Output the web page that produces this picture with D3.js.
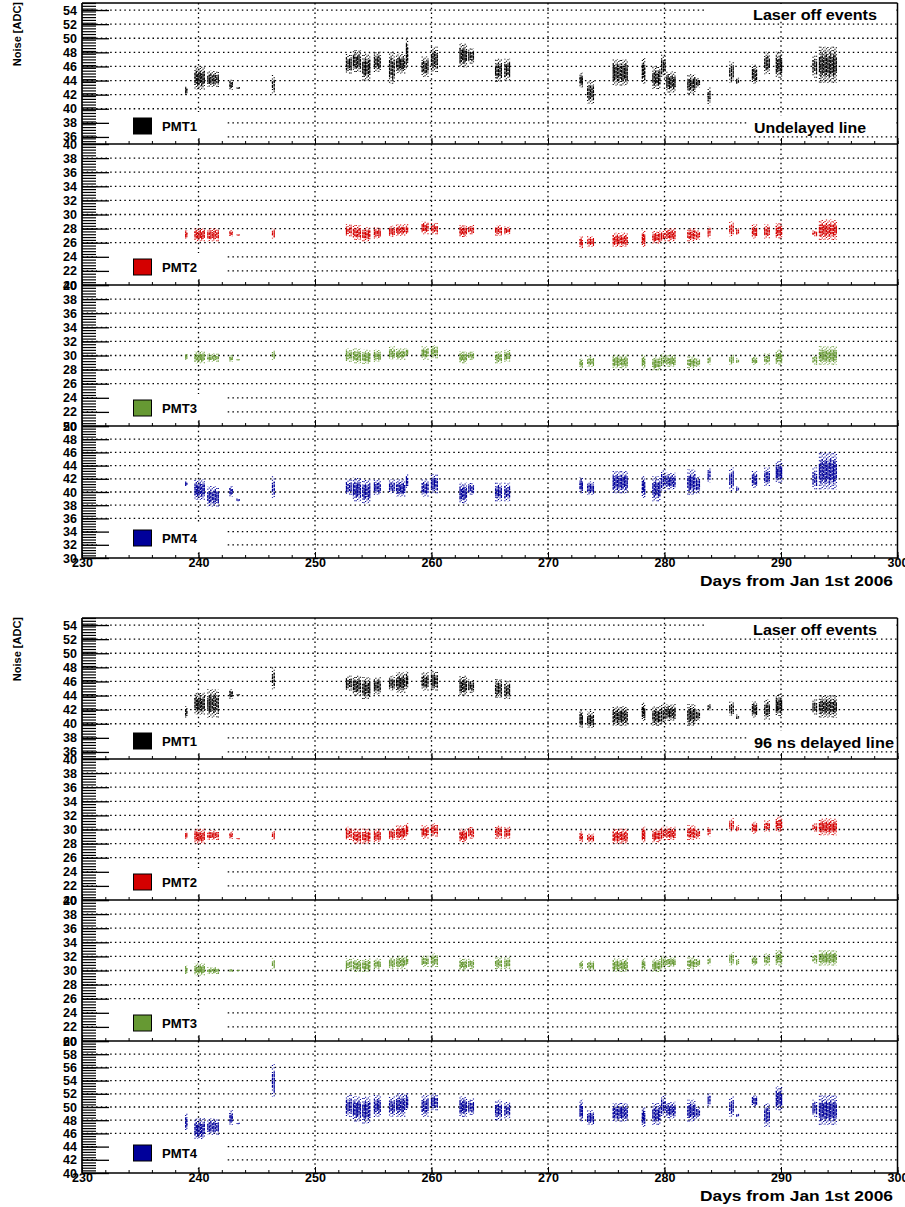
<!DOCTYPE html>
<html><head><meta charset="utf-8">
<script src="https://cdn.jsdelivr.net/npm/d3@7"></script>
<style>
body{margin:0;background:#fff}
svg{display:block}
text{font-family:"Liberation Sans",Arial,Helvetica,sans-serif;font-weight:bold;fill:#000}
</style>
</head><body>
<svg id="c" width="905" height="1207"></svg>
<script>
// ---- data ----
const xTicksMajor = [230,240,250,260,270,280,290,300];
const pmtLabels = ["PMT1","PMT2","PMT3","PMT4"];
const groupTopText = ["Laser off events","Laser off events"];
const groupLineText = ["Undelayed line","96 ns delayed line"];
const xTitle = "Days from Jan 1st 2006";
const yTitle = "Noise [ADC]";
// acquisition runs (day start / day end)
const runStart = [238.9,239.7,240.8,242.7,243.3,246.35,252.7,253.3,254.1,255.1,256.4,257.0,257.85,259.2,260.0,262.45,263.2,265.5,266.3,272.75,273.4,275.6,278.1,279.0,279.75,280.2,282.0,282.75,283.75,285.6,286.2,287.55,288.6,289.6,292.75,293.3];
const runEnd   = [239.0,240.5,241.7,242.9,243.5,246.5,253.1,253.9,254.7,255.6,256.8,257.7,257.95,259.7,260.5,263.0,263.6,266.0,266.7,272.95,273.9,276.8,278.3,279.6,280.05,280.9,282.6,283.0,283.9,285.9,286.35,287.9,289.0,290.05,293.05,294.75];
// Undelayed line
const und1Lo = [42,42.7,43.1,42.7,42.8,42.2,45,45.2,44,45.2,43.5,45,45.7,44.5,45.2,45.9,46.4,43.8,44,43,40.7,43.3,43.5,42.8,44.4,42.3,42.1,43,40.5,43.7,43.5,43.5,44.9,44.4,44.4,43.7];
const und1Hi = [43.2,46,45.4,44.1,43.1,44.8,47.8,48.3,47.8,48.1,48.1,47.8,50,47.4,48.8,49.3,48.6,47.1,47.1,45.1,44,47,47.2,46,47.7,45.3,44.9,44.4,43,46.7,44.4,46.3,48.1,48.1,47.7,48.8];
const und2Lo = [26.6,26.2,26.2,26.9,27.0,26.6,26.9,26.4,26.2,26.6,26.8,27,27.2,27.2,27.2,26.8,27.2,27,27.2,25.2,25.4,25.4,25.4,25.9,26.2,26.2,26.2,26.4,26.6,26.9,27.1,26.6,26.6,26.6,26.9,26.4];
const und2Hi = [27.8,28.1,28.1,27.8,27.2,28.1,28.6,28.5,28.2,28.2,28.4,28.6,28.6,29,28.8,28.5,28.5,28.5,28.3,26.9,26.9,27.4,27.7,27.7,27.8,28.1,28.1,27.8,28.3,29,28.1,28.6,28.6,28.8,27.8,29.3];
const und3Lo = [29.4,28.9,29.1,29.1,29.3,29.4,29.1,28.9,28.8,29.1,29.4,29.4,29.9,29.4,29.6,28.9,29.4,28.9,29.1,28.2,28.4,28.2,28.2,27.9,28.4,28.4,28.2,28.4,28.7,28.7,28.9,28.7,28.7,28.7,28.7,28.7];
const und3Hi = [30.3,30.6,30.3,30.1,29.5,30.8,31,31,30.8,30.8,31.3,31,31,31.3,31.5,30.6,30.6,30.6,30.8,29.6,29.9,30.1,30.1,29.9,30.3,30.1,29.9,29.6,29.9,30.1,29.6,29.9,30.3,30.8,30.1,31.3];
const und4Lo = [40.9,38.8,37.8,39.3,38.6,39.1,39.6,38.6,38.3,39.6,39.8,39.3,40.6,39.3,39.8,38.3,39.6,38.6,38.6,39.8,39.6,39.8,39.1,38.6,40.1,40.4,39.6,39.8,41.4,40.1,40.1,40.6,40.9,41.4,40.4,40.4];
const und4Hi = [41.6,41.9,40.9,40.9,39,42.4,41.9,42.2,41.9,41.9,41.9,41.9,42.7,41.9,42.7,41.4,41.4,41.4,41.4,42.2,41.6,43.2,42.4,42.4,43.4,42.9,43.4,42.4,43.7,43.7,40.9,43.2,43.7,44.7,43.7,46];
// 96 ns delayed line
const del1Lo = [40.9,41.3,40.9,43.5,44,44.9,44.7,44,43.5,44.2,44.7,44.4,44.9,44.7,44.7,44,44.4,43.7,43.5,39.4,39.4,39.7,40.4,39.7,39.9,40.4,39.7,40.4,41.8,41.1,40.6,40.9,40.6,41.1,41.3,40.9];
const del1Hi = [42.5,44.4,44.9,44.9,44.2,48,46.8,46.8,46.6,46.6,46.8,47.3,47.5,47.3,47.5,46.8,46.3,46.3,46.1,42,41.8,42.5,43,42.5,42.8,42.8,42.8,42,42.8,43.2,41.3,43.2,43.5,44.2,43.5,44];
const del2Lo = [28.7,28,28.5,28.7,28.6,28.5,28.5,28,28,28.2,28.5,28.5,29,28.7,29,28.2,28.7,28.7,28.7,28.2,28.2,28,28.2,28.2,28.5,28.5,28.5,28.7,29,29.7,29.7,29.4,29.7,29.7,29.7,29.2];
const del2Hi = [29.7,30.1,29.9,29.7,28.8,29.9,30.4,30.1,30.1,30.1,30.1,30.6,30.9,30.6,30.9,30.1,30.4,30.6,30.4,29.7,29.4,30.1,30.4,30.1,30.4,30.4,30.6,30.1,30.4,31.6,30.6,31.1,31.3,31.8,30.9,31.6];
const del3Lo = [29.5,29.3,29.5,29.8,29.9,30.2,30,29.8,29.8,30.2,30.2,30.2,30.7,30.5,30.5,30,30.2,30.2,30.2,30.2,30,29.8,30,29.8,30.2,30.5,30.2,30.5,30.7,30.7,30.7,30.7,30.7,30.7,31,30.7];
const del3Hi = [30.7,31,30.5,30.2,30.1,31.7,31.7,31.7,31.7,31.7,31.9,32.1,32.1,32.1,32.4,31.7,31.7,31.9,31.9,31.4,31.4,31.7,31.7,31.7,32.1,31.9,31.9,31.7,31.9,32.6,31.7,32.1,32.4,32.9,32.4,32.9];
const del4Lo = [46.5,45,45.8,47.3,47.4,51.5,48.5,47.8,47.5,48.5,48.5,48.5,49.5,48.5,49.5,48.5,48.8,48,48.3,47.8,47.3,47.8,47,47.3,48.5,48.3,47.8,48.3,50,48.5,48.5,50,47,49.5,48.5,47.3];
const del4Hi = [49,48.3,48.3,49.5,47.6,56.5,51.8,51.6,51.6,51.8,51.6,52.1,52.2,51.8,52.1,51.6,51.3,51.1,50.8,51.1,49.5,50.6,50,50.6,51.8,50.8,51.1,50,52.1,51.6,49,51.8,50.6,53.1,51.1,51.8];
// y ranges of the panels
const undDomains = [[35,55],[20,40],[20,40],[30,50]];
const delDomains = [[35,55],[20,40],[20,40],[40,60]];
const pmtColors = ["#000000","#d40000","#669933","#00009a"];

const svg = d3.select("#c");
const X0 = 82, X1 = 897.5;
const x = d3.scaleLinear().domain([230,300]).range([X0,X1]);
const relTop = [0,141,282,423], relBot = [141,282,423,555];
const groups = [
  {top:3, lo:[und1Lo,und2Lo,und3Lo,und4Lo], hi:[und1Hi,und2Hi,und3Hi,und4Hi], dom:undDomains, txt:groupLineText[0], txtLen:112, top_txt:groupTopText[0]},
  {top:618, lo:[del1Lo,del2Lo,del3Lo,del4Lo], hi:[del1Hi,del2Hi,del3Hi,del4Hi], dom:delDomains, txt:groupLineText[1], txtLen:140, top_txt:groupTopText[1]}
];
const FONT = "Liberation Sans, Arial, sans-serif";
// texture offsets for the dense point columns (purely visual)
const offA = [0,2.2,0.7,3.1,1.5,0.3,2.6,1.1,3.4];
const offB = [0,1.9,0.6,2.7,1.2,3.3,0.4,2.3];
function dotted(sel){ return sel.attr("stroke","#000").attr("stroke-width",1.3).attr("stroke-dasharray","1.5,3.2"); }

groups.forEach((G,gi)=>{
  const gg = svg.append("g");
  G.dom.forEach((dom,pi)=>{
    const yt = G.top + relTop[pi], yb = G.top + relBot[pi];
    const y = d3.scaleLinear().domain(dom).range([yb,yt]);
    const pg = gg.append("g");
    const majors = d3.range(dom[0], dom[1]+0.001, 1).filter(v=>v%2===0);
    majors.filter(v=>v>dom[0]&&v<dom[1]).forEach(v=>{
      dotted(pg.append("line").attr("x1",X0).attr("x2",X1).attr("y1",y(v)).attr("y2",y(v)));
    });
    xTicksMajor.filter(v=>v>230&&v<300).forEach(v=>{
      dotted(pg.append("line").attr("x1",x(v)).attr("x2",x(v)).attr("y1",yt).attr("y2",yb));
    });
    const lo = G.lo[pi], hi = G.hi[pi], col = pmtColors[pi];
    const dg = pg.append("g").attr("stroke",col).attr("stroke-width",1.2);
    runStart.forEach((s,i)=>{
      const px0 = x(s), px1 = x(runEnd[i]);
      const n = Math.max(2, Math.round((px1-px0)/1.4)+1);
      const l = lo[i], h = hi[i], span = h-l;
      for(let k=0;k<n;k++){
        const xx = px0 + k*(px1-px0)/(n-1);
        dg.append("line").attr("x1",xx).attr("x2",xx)
          .attr("y1",y(l)).attr("y2",y(h))
          .attr("stroke-dasharray","1,2.5").attr("stroke-dashoffset",offA[(k+i)%offA.length]);
        dg.append("line").attr("x1",xx).attr("x2",xx)
          .attr("y1",y(l+span*(0.15+0.06*((k*7+i)%3)))).attr("y2",y(h-span*(0.18+0.06*((k*5+i)%3))))
          .attr("stroke-dasharray","3,0.7").attr("stroke-dashoffset",offB[(k*3+i)%offB.length]);
      }
    });
    const lh = pi<3 ? 0 : -11;
    pg.append("rect").attr("x",97).attr("y",yt+109+lh).attr("width",130).attr("height",26).attr("fill","#fff");
    pg.append("rect").attr("x",133.5).attr("y",yt+115+lh).attr("width",18).attr("height",16)
      .attr("fill",col).attr("stroke","#000").attr("stroke-width",1);
    pg.append("text").attr("x",162).attr("y",yt+128+lh).attr("font-size",12)
      .attr("textLength",35).attr("lengthAdjust","spacingAndGlyphs").text(pmtLabels[pi]);
    const minors = d3.range(0, Math.round((dom[1]-dom[0])/0.4)+1).map(k=>dom[0]+k*0.4);
    pg.append("g").attr("transform",`translate(${X0},0)`)
      .call(d3.axisLeft(y).tickValues(minors).tickSize(-14).tickFormat(""))
      .call(a=>a.select(".domain").remove())
      .call(a=>a.selectAll("line").attr("stroke-width",1.2));
    pg.append("g").attr("transform",`translate(${X0},0)`)
      .call(d3.axisLeft(y).tickValues(majors).tickSize(-27).tickPadding(5).tickFormat(d3.format("d")))
      .call(a=>a.select(".domain").remove())
      .call(a=>a.selectAll("line").attr("stroke-width",1.3))
      .call(a=>a.selectAll("text").attr("font-size",12.5).attr("font-family",FONT).attr("font-weight","bold"));
    pg.append("g").attr("transform",`translate(0,${yb})`)
      .call(d3.axisBottom(x).tickValues(d3.range(230,301,2)).tickSize(-3).tickFormat(""))
      .call(a=>a.select(".domain").remove());
    const xa = pg.append("g").attr("transform",`translate(0,${yb})`)
      .call(d3.axisBottom(x).tickValues(xTicksMajor).tickSize(-6).tickPadding(0).tickFormat(pi===3?d3.format("d"):""))
      .call(a=>a.select(".domain").remove());
    xa.selectAll("text").attr("font-size",12.5).attr("font-family",FONT).attr("font-weight","bold");
    pg.append("line").attr("x1",X0).attr("x2",X1).attr("y1",yb).attr("y2",yb).attr("stroke","#000").attr("stroke-width",1.7);
  });
  gg.append("line").attr("x1",X0).attr("x2",X1).attr("y1",G.top).attr("y2",G.top).attr("stroke","#000").attr("stroke-width",1.7);
  gg.append("line").attr("x1",X0).attr("x2",X0).attr("y1",G.top).attr("y2",G.top+555).attr("stroke","#000").attr("stroke-width",1.7);
  gg.append("line").attr("x1",X1).attr("x2",X1).attr("y1",G.top).attr("y2",G.top+555).attr("stroke","#000").attr("stroke-width",1.5);
  gg.append("rect").attr("x",707).attr("y",G.top+1).attr("width",189).attr("height",17).attr("fill","#fff");
  gg.append("text").attr("x",753).attr("y",G.top+17).attr("font-size",14)
    .attr("textLength",124).attr("lengthAdjust","spacingAndGlyphs").text(G.top_txt);
  gg.append("rect").attr("x",748).attr("y",G.top+113).attr("width",148).attr("height",20).attr("fill","#fff");
  gg.append("text").attr("x",754).attr("y",G.top+130).attr("font-size",14)
    .attr("textLength",G.txtLen).attr("lengthAdjust","spacingAndGlyphs").text(G.txt);
  gg.append("text").attr("transform",`translate(21,${G.top-1}) rotate(-90)`).attr("text-anchor","end").attr("font-size",11).text(yTitle);
  gg.append("text").attr("x",700).attr("y",G.top+583).attr("font-size",15)
    .attr("textLength",193).attr("lengthAdjust","spacingAndGlyphs").text(xTitle);
});
</script>
</body></html>
